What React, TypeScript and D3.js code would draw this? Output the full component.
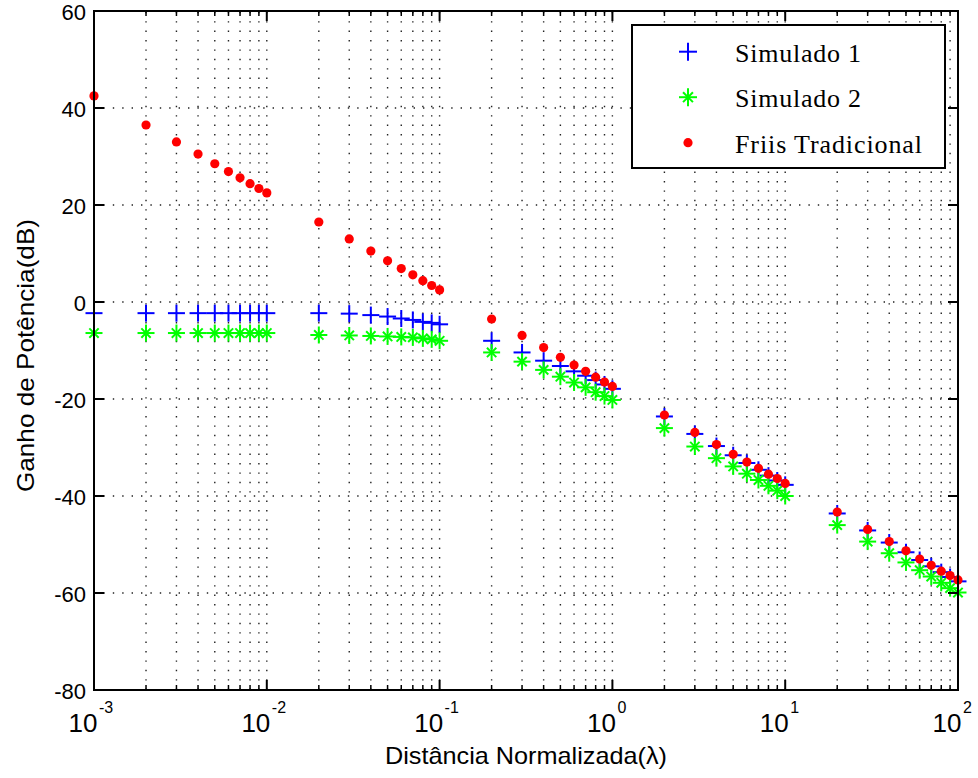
import React from "react";
import * as d3 from "d3";

// Normalised distance (in wavelengths)
const distances = [
  0.001, 0.002, 0.003, 0.004, 0.005, 0.006, 0.007, 0.008, 0.009, 0.01,
  0.02, 0.03, 0.04, 0.05, 0.06, 0.07, 0.08, 0.09, 0.1,
  0.2, 0.3, 0.4, 0.5, 0.6, 0.7, 0.8, 0.9, 1,
  2, 3, 4, 5, 6, 7, 8, 9, 10,
  20, 30, 40, 50, 60, 70, 80, 90, 100,
];

// Power gain (dB) per series
const simulado1 = [
  -2.3, -2.3, -2.3, -2.3, -2.3, -2.3, -2.3, -2.3, -2.3, -2.3,
  -2.3, -2.4, -2.7, -3.0, -3.4, -3.7, -4.1, -4.3, -4.6,
  -8.0, -10.4, -12.1, -13.2, -14.3, -15.2, -16.1, -17.0, -17.9,
  -23.6, -27.2, -29.7, -31.6, -33.2, -34.6, -35.8, -36.8, -37.7,
  -43.6, -47.1, -49.6, -51.6, -53.2, -54.5, -55.7, -56.7, -57.6,
];

const simulado2 = [
  -6.4, -6.4, -6.4, -6.4, -6.4, -6.4, -6.4, -6.4, -6.4, -6.4,
  -6.8, -6.9, -7.0, -7.1, -7.2, -7.3, -7.5, -7.7, -8.0,
  -10.4, -12.3, -14.0, -15.4, -16.6, -17.6, -18.6, -19.4, -20.2,
  -26.0, -29.8, -32.2, -33.9, -35.4, -36.7, -37.9, -38.9, -40.0,
  -46.0, -49.4, -51.8, -53.7, -55.3, -56.6, -57.9, -59.0, -59.9,
];

const friis = [
  42.5, 36.5, 33.0, 30.5, 28.5, 26.9, 25.6, 24.4, 23.4, 22.5,
  16.5, 13.0, 10.5, 8.5, 6.9, 5.6, 4.4, 3.4, 2.5,
  -3.5, -6.9, -9.4, -11.4, -13.0, -14.3, -15.5, -16.5, -17.4,
  -23.3, -26.9, -29.4, -31.4, -33.0, -34.3, -35.5, -36.4, -37.4,
  -43.3, -46.9, -49.4, -51.3, -53.0, -54.3, -55.5, -56.4, -57.3,
];

const xDecades = [-3, -2, -1, 0, 1, 2];
const yTicks = [60, 40, 20, 0, -20, -40, -60, -80];
const legendLabels = ["Simulado 1", "Simulado 2", "Friis Tradicional"];
const legendWidths = [126, 126, 187];

const W = 978;
const H = 778;
const left = 94;
const right = 958;
const top = 11;
const bottom = 690;

const BLUE = "#0000ff";
const GREEN = "#00ff00";
const RED = "#ff0000";

function Plus({ x, y, s = 8.5 }: { x: number; y: number; s?: number }) {
  return (
    <g stroke={BLUE} strokeWidth={2}>
      <line x1={x - s} x2={x + s} y1={y} y2={y} />
      <line x1={x} x2={x} y1={y - s} y2={y + s} />
    </g>
  );
}

function Star({ x, y, s = 8.5 }: { x: number; y: number; s?: number }) {
  const d = s * 0.55;
  return (
    <g stroke={GREEN} strokeWidth={2}>
      <line x1={x - s} x2={x + s} y1={y} y2={y} />
      <line x1={x} x2={x} y1={y - s} y2={y + s} />
      <line x1={x - d} x2={x + d} y1={y - d} y2={y + d} />
      <line x1={x - d} x2={x + d} y1={y + d} y2={y - d} />
    </g>
  );
}

function Dot({ x, y }: { x: number; y: number }) {
  return <circle cx={x} cy={y} r={4.6} fill={RED} />;
}

export default function App() {
  const x = d3.scaleLog().domain([1e-3, 1e2]).range([left, right]);
  const y = d3.scaleLinear().domain([-80, 60]).range([bottom, top]);

  const majorX = xDecades.map((e) => Math.pow(10, e));
  const minorX: number[] = [];
  xDecades.slice(0, -1).forEach((e) => {
    for (let k = 2; k <= 9; k++) minorX.push(k * Math.pow(10, e));
  });
  const allX = [...majorX, ...minorX];

  const gridStyle = {
    stroke: "#222",
    strokeWidth: 1.4,
    strokeDasharray: "1.4 8",
  };

  const sans = "'Liberation Sans', Arial, Helvetica, sans-serif";
  const serif = "'Liberation Serif', 'Times New Roman', serif";

  return (
    <svg
      width={W}
      height={H}
      style={{ position: "absolute", left: 0, top: 0, background: "#fff" }}
    >
      <rect x={0} y={0} width={W} height={H} fill="#fff" />

      {/* grid */}
      <g>
        {allX.map((v, i) => (
          <line
            key={"gx" + i}
            x1={x(v)}
            x2={x(v)}
            y1={bottom}
            y2={top}
            {...gridStyle}
          />
        ))}
        {yTicks.map((v, i) => (
          <line
            key={"gy" + i}
            x1={left}
            x2={right}
            y1={y(v)}
            y2={y(v)}
            {...gridStyle}
          />
        ))}
      </g>

      {/* series */}
      <g>
        {distances.map((d, i) => (
          <Plus key={"s1" + i} x={x(d)} y={y(simulado1[i])} />
        ))}
        {distances.map((d, i) => (
          <Star key={"s2" + i} x={x(d)} y={y(simulado2[i])} />
        ))}
        {distances.map((d, i) => (
          <Dot key={"fr" + i} x={x(d)} y={y(friis[i])} />
        ))}
      </g>

      {/* axes box and ticks */}
      <g stroke="#000" strokeWidth={2} fill="none">
        <rect x={left} y={top} width={right - left} height={bottom - top} />
        {majorX.map((v, i) => (
          <g key={"mx" + i}>
            <line x1={x(v)} x2={x(v)} y1={bottom} y2={bottom - 10} />
            <line x1={x(v)} x2={x(v)} y1={top} y2={top + 10} />
          </g>
        ))}
        {minorX.map((v, i) => (
          <g key={"nx" + i} strokeWidth={1.5}>
            <line x1={x(v)} x2={x(v)} y1={bottom} y2={bottom - 5} />
            <line x1={x(v)} x2={x(v)} y1={top} y2={top + 5} />
          </g>
        ))}
        {yTicks.map((v, i) => (
          <g key={"my" + i}>
            <line x1={left} x2={left + 10} y1={y(v)} y2={y(v)} />
            <line x1={right} x2={right - 10} y1={y(v)} y2={y(v)} />
          </g>
        ))}
      </g>

      {/* y tick labels */}
      <g fontFamily={sans} fontSize={22} fill="#000" textAnchor="end">
        {yTicks.map((v, i) => (
          <text key={"yl" + i} x={86} y={y(v) + 8.5}>
            {v}
          </text>
        ))}
      </g>

      {/* x tick labels */}
      <g fontFamily={sans} fill="#000">
        {xDecades.map((e, i) => {
          const px = x(Math.pow(10, e));
          return (
            <g key={"xl" + i}>
              <text x={px + 3.5} y={732} fontSize={26} textAnchor="end">
                10
              </text>
              <text x={px + 5} y={713} fontSize={16} textAnchor="start">
                {e}
              </text>
            </g>
          );
        })}
      </g>

      {/* axis titles */}
      <text
        x={(left + right) / 2}
        y={764}
        fontFamily={sans}
        fontSize={24}
        textAnchor="middle"
        textLength={282}
        lengthAdjust="spacingAndGlyphs"
      >
        Distância Normalizada(λ)
      </text>
      <text
        transform={`translate(34, ${(top + bottom) / 2 + 5}) rotate(-90)`}
        fontFamily={sans}
        fontSize={24}
        textAnchor="middle"
        textLength={273}
        lengthAdjust="spacingAndGlyphs"
      >
        Ganho de Potência(dB)
      </text>

      {/* legend */}
      <g>
        <rect
          x={632}
          y={25}
          width={313}
          height={143}
          fill="#fff"
          stroke="#000"
          strokeWidth={2}
        />
        {legendLabels.map((lab, i) => {
          const cy = 51.7 + i * 45.5;
          return (
            <g key={"lg" + i}>
              {i === 0 && <Plus x={688} y={cy} s={9} />}
              {i === 1 && <Star x={688} y={cy} s={9} />}
              {i === 2 && <Dot x={688} y={cy} />}
              <text
                x={735}
                y={cy + 10}
                fontFamily={serif}
                fontSize={26}
                fill="#000"
                textLength={legendWidths[i]}
                lengthAdjust="spacing"
              >
                {lab}
              </text>
            </g>
          );
        })}
      </g>
    </svg>
  );
}
